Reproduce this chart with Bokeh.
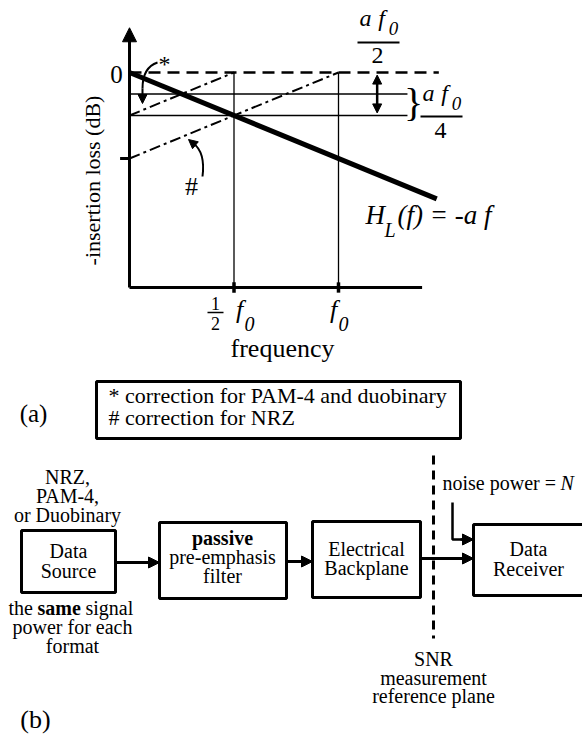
import numpy as np
from bokeh.plotting import figure
from bokeh.models import Range1d, Arrow, NormalHead
from bokeh.core.properties import value
from bokeh.embed import file_html
from bokeh.resources import INLINE

# ---------------- panel (a) data: frequency in units of f0, loss in units of a*f0
f_ticks = [0.5, 1.0]                 # tick positions: (1/2) f0 and f0
hl_f = [0.0, 1.47]                   # H_L(f) = -a f  (thick line)
hl_loss = [0.0, 1.47]
star_f = [0.0, 0.5]                  # * correction for PAM-4 / duobinary
star_loss = [0.5, 0.0]
hash_f = [0.0, 1.0]                  # # correction for NRZ
hash_loss = [1.0, 0.0]
zero_f = [0.0, 1.48]                 # 0 dB reference (dashed)
zero_loss = [0.0, 0.0]
guide_loss = [0.25, 0.5]             # thin horizontal guides (a f0/4, a f0/2)
guide_f_end = 1.33
y_tick_loss = [1.0]
axis_f_end = 1.40
axis_loss_top = -0.52
axis_loss_x = 2.50

# ---------------- panel (b) texts
source_labels = ["NRZ,", "PAM-4,", "or Duobinary"]
block_lines = [["Data", "Source"], ["passive", "pre-emphasis", "filter"],
               ["Electrical", "Backplane"], ["Data", "Receiver"]]
legend_lines = ["* correction for PAM-4 and duobinary", "# correction for NRZ"]
snr_lines = ["SNR", "measurement", "reference plane"]
note_lines = ["power for each", "format"]

# ---------------- layout
W, H = 582, 739
X0, XS = 129, 209      # pixel of f=0, pixels per f0
Y0, YS = 72, 86        # pixel of loss=0, pixels per a*f0
FONT = value("Liberation Serif")
K = 0.33               # baseline correction (fraction of font size)

p = figure(width=W, height=H, x_range=Range1d(0, W), y_range=Range1d(H, 0),
           x_axis_location=None, y_axis_location=None, min_border=0,
           toolbar_location=None, output_backend="svg", outline_line_color=None)
p.grid.visible = False
p.extra_x_ranges = {"f": Range1d(-X0 / XS, (W - X0) / XS)}
p.extra_y_ranges = {"L": Range1d((H - Y0) / YS, -Y0 / YS)}
D = dict(x_range_name="f", y_range_name="L")


def txt(x, y, s, size, style="normal", align="center", baseline="alphabetic", angle=0):
    if baseline == "alphabetic":
        y = y - K * size
    p.text(x=[x], y=[y], text=[s], text_font=FONT, text_font_size=f"{size}px",
           text_font_style=style, text_align=align, text_baseline=baseline,
           text_color="black", angle=angle)


def head(size=10):
    return NormalHead(size=size, fill_color="black", line_color="black", line_width=1)


# ---- axes (data space)
p.line([0, 0], [axis_loss_x, axis_loss_top + 0.1], line_width=3, color="black", **D)
p.add_layout(Arrow(end=head(14), x_start=0, y_start=axis_loss_top + 0.15, x_end=0,
                   y_end=axis_loss_top, line_width=3, **D))
p.line([0, axis_f_end], [axis_loss_x, axis_loss_x], line_width=3, color="black", **D)
for ft in f_ticks:
    p.segment(x0=[ft], y0=[axis_loss_x - 0.06], x1=[ft], y1=[axis_loss_x + 0.06],
              line_width=3.5, color="black", **D)
    p.line([ft, ft], [0, axis_loss_x], line_width=1.3, color="black", **D)
for lt in y_tick_loss:
    p.segment(x0=[-0.045], y0=[lt], x1=[0], y1=[lt], line_width=3, color="black", **D)
for gl in guide_loss:
    p.line([0, guide_f_end], [gl, gl], line_width=1.3, color="black", **D)

p.line(zero_f, zero_loss, line_width=2.5, color="black", line_dash="12 7", **D)
p.line(star_f, star_loss, line_width=2, color="black", line_dash="11 4 3 4", **D)
p.line(hash_f, hash_loss, line_width=2, color="black", line_dash="11 4 3 4", **D)
p.line(hl_f, hl_loss, line_width=5, color="black", **D)

# double arrow a f0/2
p.add_layout(Arrow(start=head(9), end=head(9), x_start=1.185, y_start=0.03,
                   x_end=1.185, y_end=guide_loss[1] - 0.03, line_width=2.5, **D))

# ---- panel (a) texts
txt(116, 82, "0", 25)
txt(92, 180, "-insertion loss (dB)", 22, baseline="middle", angle=np.pi / 2)
txt(164, 71, "*", 24)
txt(191, 195, "#", 26)
# * curved arrow
p.bezier(x0=[157], y0=[62], x1=[142], y1=[88], cx0=[145], cy0=[66], cx1=[142], cy1=[76],
         line_width=2, color="black")
p.add_layout(Arrow(end=head(9), x_start=142, y_start=88, x_end=142, y_end=103, line_width=2))
# # curved arrow
p.bezier(x0=[202], y0=[176], x1=[193], y1=[143], cx0=[204], cy0=[160], cx1=[201], cy1=[149],
         line_width=2, color="black")
p.add_layout(Arrow(end=head(9), x_start=194, y_start=144, x_end=188, y_end=139, line_width=2))

# a f0 / 2
txt(365, 25, "a", 24, "italic")
txt(381, 25, "f", 24, "italic")
txt(393, 34, "0", 19, "italic")
p.line([357, 399], [42, 42], line_width=2.2, color="black")
txt(377, 63, "2", 24)
# brace + a f0 / 4
txt(413, 115, "}", 40)
txt(428, 100, "a", 24, "italic")
txt(444, 100, "f", 24, "italic")
txt(456, 109, "0", 19, "italic")
p.line([420, 462], [116, 116], line_width=2.2, color="black")
txt(440, 138, "4", 24)
# H_L(f) = -af
txt(365, 223, "H", 27, "italic", align="left")
txt(384, 236, "L", 20, "italic", align="left")
txt(397, 223, "(f) = -a f", 27, "italic", align="left")

# x tick labels
txt(215, 309, "1", 18)
p.line([207, 223], [312, 312], line_width=1.6, color="black")
txt(215, 329, "2", 18)
txt(239, 318, "f", 26, "italic")
txt(249, 330, "0", 20, "italic")
txt(333, 318, "f", 26, "italic")
txt(343, 330, "0", 20, "italic")
txt(282, 357, "frequency", 26)

# legend box
p.quad(left=[96], right=[460], top=[381], bottom=[438], fill_color=None,
       line_color="black", line_width=3)
txt(108, 402, legend_lines[0], 22, align="left")
txt(108, 424, legend_lines[1], 22, align="left")
txt(33, 421, "(a)", 25)

# ---------------- panel (b)
for s, yb in zip(source_labels, [483, 502, 521]):
    txt(67, yb, s, 20)

boxes_l = [21, 159, 312, 473]
boxes_r = [115, 286, 420, 595]
boxes_t = [530, 522, 521, 524]
boxes_b = [592, 598, 597, 595]
p.quad(left=boxes_l, right=boxes_r, top=boxes_t, bottom=boxes_b, fill_color=None,
       line_color="black", line_width=3)

txt(68, 557, block_lines[0][0], 20)
txt(68, 577, block_lines[0][1], 20)
txt(222, 544, block_lines[1][0], 20, "bold")
txt(222, 563, block_lines[1][1], 20)
txt(222, 582, block_lines[1][2], 20)
txt(366, 555, block_lines[2][0], 20)
txt(366, 574, block_lines[2][1], 20)
txt(528, 555, block_lines[3][0], 20)
txt(528, 575, block_lines[3][1], 20)

# arrows between blocks
for xs, xe, y in [(115, 159, 562), (286, 312, 561), (420, 473, 558)]:
    p.add_layout(Arrow(end=head(11), x_start=xs, y_start=y, x_end=xe, y_end=y, line_width=3))

# noise arrow
p.line([452, 452, 462], [502, 539, 539], line_width=2.5, color="black")
p.add_layout(Arrow(end=head(11), x_start=460, y_start=539, x_end=473, y_end=539, line_width=2.5))
txt(442, 489, "noise power =", 20, align="left")
txt(560, 489, "N", 20, "italic", align="left")

# SNR reference plane
p.line([433, 433], [455, 638], line_width=3, color="black", line_dash="9 6")
for s, yb in zip(snr_lines, [665, 684, 702]):
    txt(433, yb, s, 20)

# format notes
txt(8, 614, "the", 20, align="left")
txt(37, 614, "same", 20, "bold", align="left")
txt(85, 614, "signal", 20, align="left")
txt(72, 633, note_lines[0], 20)
txt(72, 652, note_lines[1], 20)
txt(35, 728, "(b)", 26)

open("out.html", "w").write(file_html(p, INLINE))
